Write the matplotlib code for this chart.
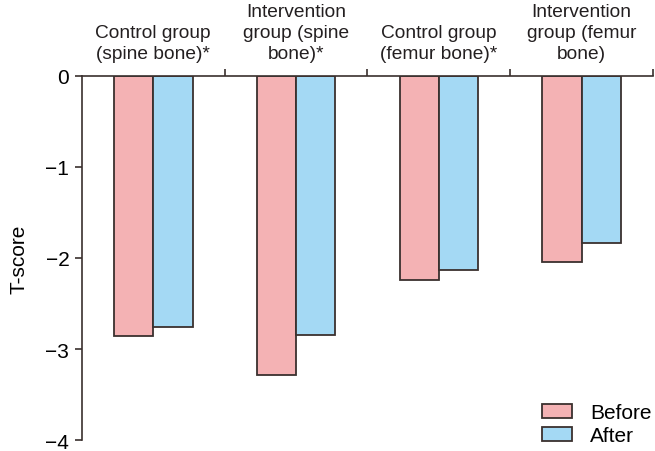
import numpy as np
import matplotlib.pyplot as plt

plt.rcParams['font.family'] = ['Liberation Sans', 'DejaVu Sans']

groups = ["Control group\n(spine bone)*", "Intervention\ngroup (spine\nbone)*",
          "Control group\n(femur bone)*", "Intervention\ngroup (femur\nbone)"]
before = [-2.86, -3.28, -2.24, -2.04]
after = [-2.76, -2.85, -2.13, -1.83]

pink = '#F4B2B4'
blue = '#A4D9F4'
edge = '#3a302e'

fig = plt.figure(figsize=(6.55, 4.52), dpi=100)
ax = fig.add_axes([0.125, 0.024, 0.872, 0.806])

x = np.arange(len(groups)) + 0.5
w = 0.275
ax.bar(x - w / 2, before, w, color=pink, edgecolor=edge, linewidth=1.3, label='Before')
ax.bar(x + w / 2, after, w, color=blue, edgecolor=edge, linewidth=1.3, label='After')

ax.set_xlim(0, 4)
ax.set_ylim(-4, 0)

# spines: left axis and the zero line on top
ax.spines['right'].set_visible(False)
ax.spines['bottom'].set_visible(False)
for s in ['left', 'top']:
    ax.spines[s].set_color(edge)
    ax.spines[s].set_linewidth(1.2)

ax.set_yticks([0, -1, -2, -3, -4])
ax.set_yticklabels(['0', '\u22121', '\u22122', '\u22123', '\u22124'])
ax.tick_params(axis='y', direction='out', length=5, width=1.2, color=edge,
               labelsize=15, pad=4)
ax.xaxis.tick_top()
ax.set_xticks([1, 2, 3, 4])
ax.tick_params(axis='x', direction='out', length=5, width=1.2, color=edge,
               labeltop=False, labelbottom=False)

for xi, g in zip(x, groups):
    ax.text(xi, 0.15, g, ha='center', va='bottom', fontsize=13.8,
            linespacing=1.3, color='#231f20')

ax.set_ylabel('T-score', fontsize=15, labelpad=12)

ax.legend(loc='lower right', bbox_to_anchor=(1.03, -0.066), frameon=False,
          fontsize=15, handlelength=1.45, handleheight=0.68,
          handletextpad=0.85, labelspacing=0.2)

fig.savefig('out.png', dpi=100)
